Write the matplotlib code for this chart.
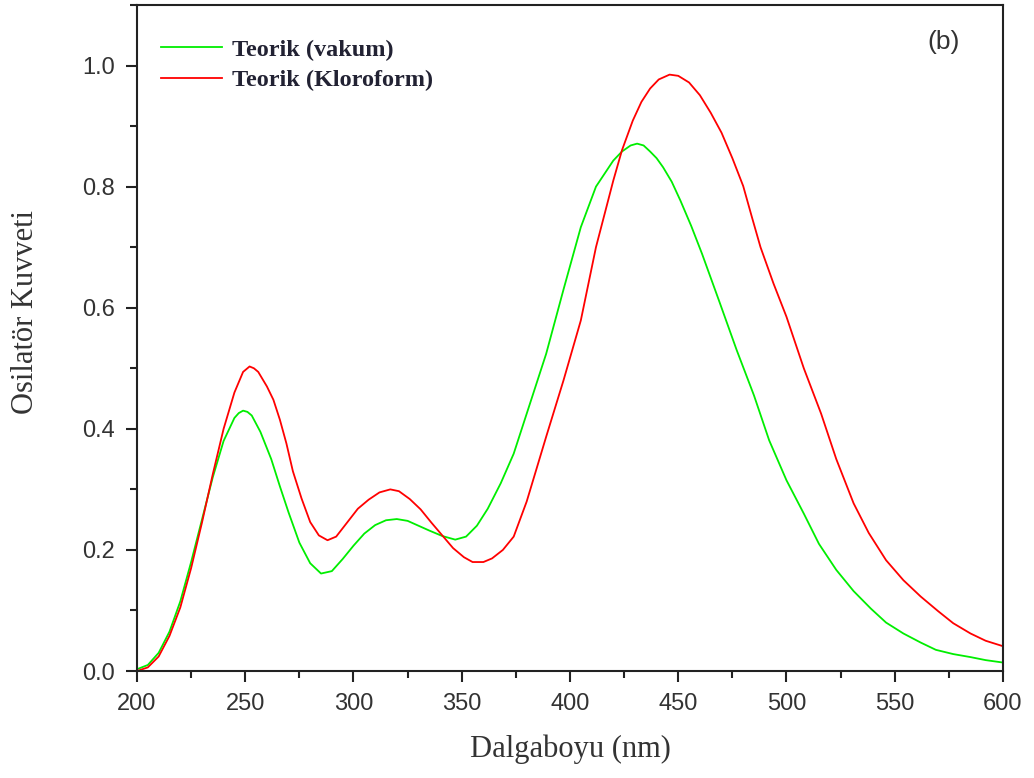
import numpy as np
import matplotlib
matplotlib.use('Agg')
import matplotlib.pyplot as plt
from matplotlib.ticker import MultipleLocator

# wavelength (nm) / oscillator strength
wl_vakum = [200, 205, 210, 215, 220, 225, 230, 235, 240, 245, 247, 249, 251, 253, 257,
            262, 266, 270, 275, 280, 285, 290, 295, 300, 305, 310, 315, 320, 325, 330,
            335, 341, 347, 352, 357, 362, 368, 374, 380, 389, 397, 405, 412, 420, 424,
            428, 431, 434, 437, 440, 443, 447, 451, 456, 461, 469, 477, 485, 492, 500,
            508, 515, 523, 531, 539, 546, 554, 562, 569, 577, 585, 592, 600]
f_vakum = [0.003, 0.010, 0.030, 0.065, 0.115, 0.180, 0.250, 0.320, 0.380, 0.418, 0.426,
           0.430, 0.428, 0.422, 0.395, 0.350, 0.305, 0.262, 0.212, 0.178, 0.161, 0.165,
           0.185, 0.207, 0.227, 0.241, 0.249, 0.251, 0.248, 0.240, 0.232, 0.223, 0.217,
           0.222, 0.240, 0.268, 0.310, 0.359, 0.425, 0.524, 0.630, 0.733, 0.800, 0.843,
           0.858, 0.868, 0.871, 0.868, 0.858, 0.847, 0.832, 0.808, 0.777, 0.735, 0.689,
           0.610, 0.530, 0.455, 0.381, 0.315, 0.260, 0.210, 0.167, 0.132, 0.103, 0.080,
           0.062, 0.047, 0.035, 0.028, 0.023, 0.018, 0.014]

wl_klor = [200, 205, 210, 215, 220, 225, 230, 235, 240, 245, 249, 252, 254, 256, 260,
           263, 266, 269, 272, 276, 280, 284, 288, 292, 297, 302, 307, 312, 317, 321,
           326, 331, 336, 341, 346, 351, 355, 360, 364, 369, 374, 380, 389, 397, 405,
           412, 420, 424, 429, 433, 437, 441, 446, 450, 455, 460, 465, 470, 475, 480,
           484, 488, 494, 500, 508, 516, 523, 531, 538, 546, 554, 562, 570, 577, 585,
           592, 600]
f_klor = [0.000, 0.006, 0.024, 0.058, 0.105, 0.170, 0.245, 0.325, 0.400, 0.460, 0.494,
          0.503, 0.500, 0.494, 0.470, 0.448, 0.415, 0.376, 0.330, 0.285, 0.246, 0.224,
          0.216, 0.222, 0.245, 0.268, 0.283, 0.295, 0.300, 0.297, 0.284, 0.267, 0.245,
          0.224, 0.203, 0.188, 0.180, 0.180, 0.186, 0.200, 0.222, 0.280, 0.387, 0.480,
          0.579, 0.700, 0.810, 0.860, 0.909, 0.940, 0.962, 0.977, 0.985, 0.983, 0.972,
          0.951, 0.922, 0.889, 0.847, 0.801, 0.750, 0.700, 0.640, 0.585, 0.500, 0.425,
          0.350, 0.277, 0.228, 0.183, 0.150, 0.123, 0.099, 0.079, 0.062, 0.050, 0.041]

fig = plt.figure(figsize=(10.34, 7.78), dpi=100)
ax = fig.add_axes([0.1325, 0.1375, 0.8375, 0.8561])

ax.plot(wl_vakum, f_vakum, color='#00ee00', lw=1.3, label='Teorik (vakum)')
ax.plot(wl_klor, f_klor, color='#ff0000', lw=1.3, label='Teorik (Kloroform)')

ax.set_xlim(200, 600)
ax.set_ylim(0, 1.1)
ax.xaxis.set_major_locator(MultipleLocator(50))
ax.xaxis.set_minor_locator(MultipleLocator(25))
ax.yaxis.set_major_locator(MultipleLocator(0.2))
ax.yaxis.set_minor_locator(MultipleLocator(0.1))
ax.yaxis.set_major_formatter(plt.FormatStrFormatter('%.1f'))

for s in ax.spines.values():
    s.set_linewidth(1.5)
    s.set_color('#222222')
ax.tick_params(which='both', direction='out', top=False, right=False, width=1.5, color='#222222')
ax.tick_params(which='major', length=8, pad=8, labelsize=17, labelcolor='#333333')
ax.tick_params(which='minor', length=5)
for lab in ax.get_xticklabels() + ax.get_yticklabels():
    lab.set_family('Liberation Sans')

ax.set_xlabel('Dalgaboyu (nm)', family='Liberation Serif', fontsize=22, color='#333333', labelpad=14)
ax.set_ylabel('Osilatör Kuvveti', family='Liberation Serif', fontsize=22, color='#333333')
ax.yaxis.set_label_coords(-0.112, 0.539)

leg = ax.legend(loc='upper left', bbox_to_anchor=(0.0, 0.986), frameon=False,
                prop={'family': 'Liberation Serif', 'weight': 'bold', 'size': 17.5},
                handlelength=2.5, handletextpad=0.4, labelspacing=0.35, borderaxespad=0.6)
for t in leg.get_texts():
    t.set_color('#222233')

ax.text(0.931, 0.944, '(b)', transform=ax.transAxes, family='Liberation Sans', fontsize=19,
        color='#333333', ha='center', va='center')

fig.savefig('out.png', dpi=100)
